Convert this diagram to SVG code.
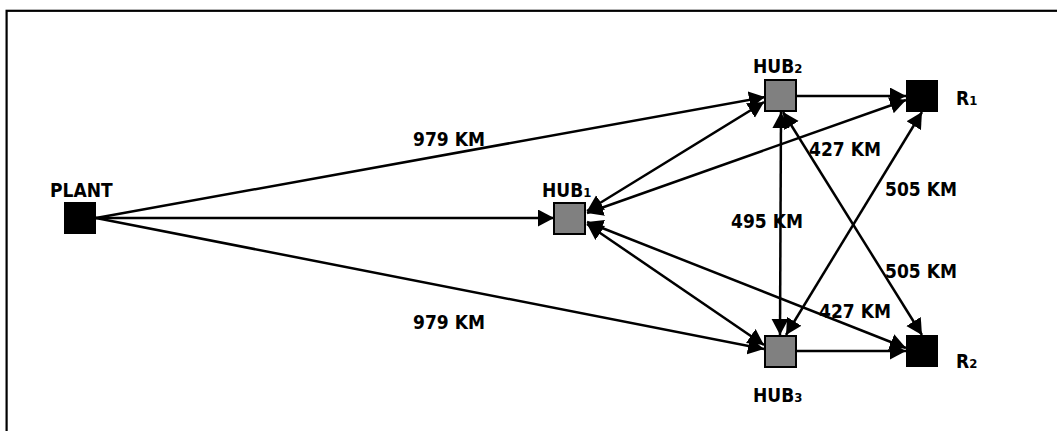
<svg xmlns="http://www.w3.org/2000/svg" width="1057" height="431" viewBox="0 0 1057 431">
  <style>
    .lbl { font-family: "DejaVu Sans Condensed", "DejaVu Sans", sans-serif; font-weight: bold; font-size: 19px; fill: #000; }
    .sub { font-size: 13px; }
    .edge { stroke: #000; stroke-width: 2.5; fill: none; }
    .hub { fill: #808080; stroke: #000; stroke-width: 2; }
    .blk { fill: #000; stroke: #000; stroke-width: 1; }
  </style>
  <defs>
    <marker id="ah" markerUnits="userSpaceOnUse" markerWidth="17" markerHeight="18" refX="16" refY="8.5" orient="auto-start-reverse" viewBox="0 0 17 18">
      <path d="M0,0 L16,8.5 L0,17 z" fill="#000"/>
    </marker>
  </defs>
  <rect x="0" y="0" width="1057" height="431" fill="#fff"/>
  <rect x="6.6" y="10.8" width="1100" height="500" fill="none" stroke="#000" stroke-width="2.2"/>

  <g id="connectors">
    <line class="edge" x1="96" y1="218" x2="765" y2="97" marker-end="url(#ah)"/>
    <line class="edge" x1="96" y1="218" x2="554" y2="218" marker-end="url(#ah)"/>
    <line class="edge" x1="96" y1="218" x2="764" y2="349" marker-end="url(#ah)"/>
    <line class="edge" x1="587" y1="211" x2="764" y2="102" marker-start="url(#ah)" marker-end="url(#ah)"/>
    <line class="edge" x1="587" y1="213" x2="906" y2="100" marker-start="url(#ah)" marker-end="url(#ah)"/>
    <line class="edge" x1="587" y1="224" x2="764" y2="345" marker-start="url(#ah)" marker-end="url(#ah)"/>
    <line class="edge" x1="587" y1="222" x2="906" y2="348" marker-start="url(#ah)" marker-end="url(#ah)"/>
    <line class="edge" x1="797" y1="96" x2="906" y2="96" marker-end="url(#ah)"/>
    <line class="edge" x1="797" y1="351" x2="906" y2="351" marker-end="url(#ah)"/>
    <line class="edge" x1="781" y1="112" x2="780" y2="335" marker-start="url(#ah)" marker-end="url(#ah)"/>
    <line class="edge" x1="783" y1="112" x2="922" y2="335" marker-start="url(#ah)" marker-end="url(#ah)"/>
    <line class="edge" x1="786" y1="335" x2="922" y2="112" marker-start="url(#ah)" marker-end="url(#ah)"/>
  </g>

  <g id="edge-labels">
    <text class="lbl" x="413" y="146">979 KM</text>
    <text class="lbl" x="413" y="329">979 KM</text>
    <text class="lbl" x="809" y="156">427 KM</text>
    <text class="lbl" x="885" y="196">505 KM</text>
    <text class="lbl" x="731" y="228">495 KM</text>
    <text class="lbl" x="885" y="278">505 KM</text>
    <text class="lbl" x="819" y="318">427 KM</text>
  </g>

  <g id="plant">
    <rect class="blk" x="64.5" y="202.5" width="31" height="31"/>
    <text class="lbl" x="50" y="197">PLANT</text>
  </g>
  <g id="hub1">
    <rect class="hub" x="554" y="203" width="31" height="31"/>
    <text class="lbl" x="542" y="197">HUB<tspan class="sub">1</tspan></text>
  </g>
  <g id="hub2">
    <rect class="hub" x="765" y="80" width="31" height="31"/>
    <text class="lbl" x="753" y="73">HUB<tspan class="sub">2</tspan></text>
  </g>
  <g id="hub3">
    <rect class="hub" x="765" y="336" width="31" height="31"/>
    <text class="lbl" x="753" y="402">HUB<tspan class="sub">3</tspan></text>
  </g>
  <g id="r1">
    <rect class="blk" x="906.5" y="80.5" width="31" height="31"/>
    <text class="lbl" x="956" y="105">R<tspan class="sub">1</tspan></text>
  </g>
  <g id="r2">
    <rect class="blk" x="906.5" y="335.5" width="31" height="31"/>
    <text class="lbl" x="956" y="368">R<tspan class="sub">2</tspan></text>
  </g>
</svg>
